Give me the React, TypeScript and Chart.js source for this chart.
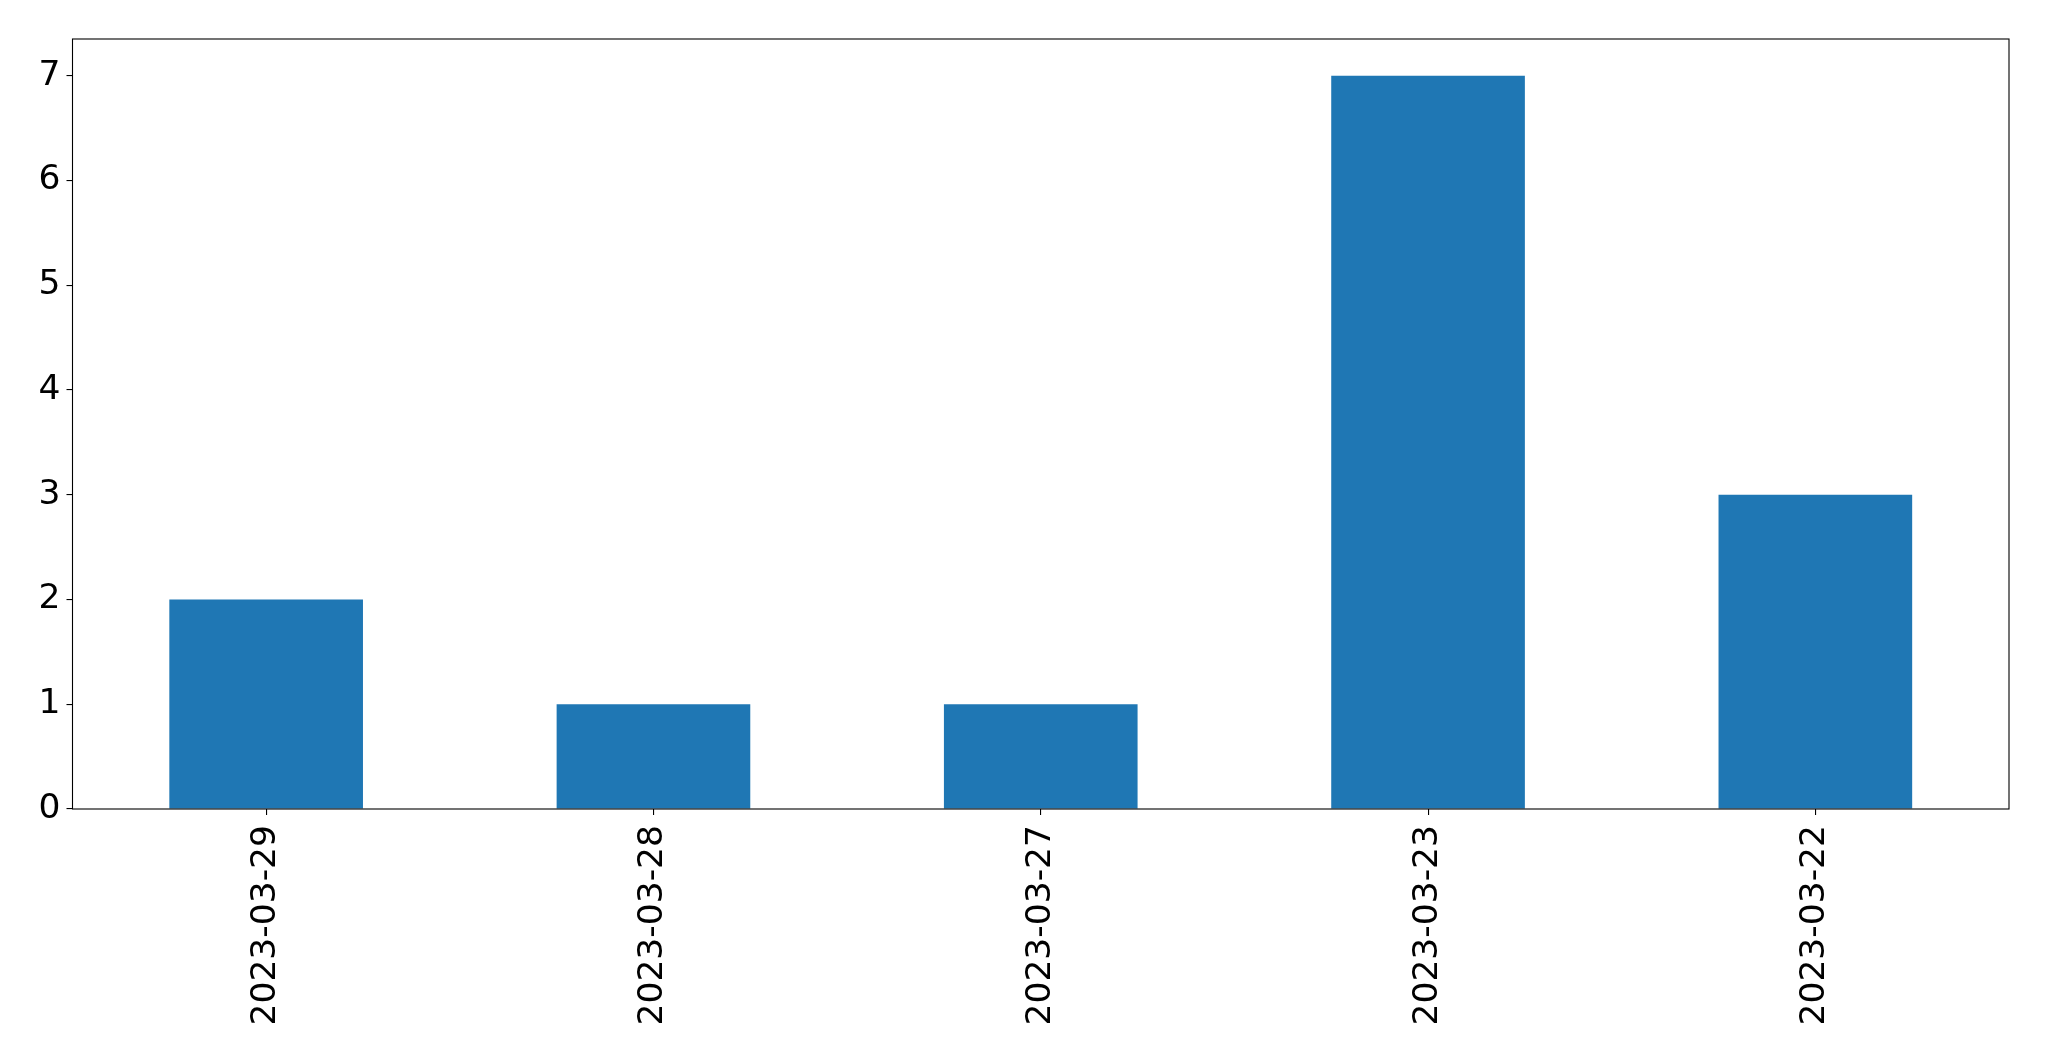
import React, { useEffect, useRef } from "react";
import { Chart, registerables } from "chart.js";

Chart.register(...registerables);

const categories: string[] = ["2023-03-29", "2023-03-28", "2023-03-27", "2023-03-23", "2023-03-22"];
const counts: number[] = [2, 1, 1, 7, 3];
const yMax = 7.35;

const frame = {
  id: "frame",
  afterDraw(chart: any) {
    const { ctx, chartArea } = chart;
    ctx.save();
    ctx.strokeStyle = "#000";
    ctx.lineWidth = 1.1;
    ctx.strokeRect(chartArea.left, chartArea.top, chartArea.right - chartArea.left, chartArea.bottom - chartArea.top);
    ctx.restore();
  },
};

export default function App() {
  const ref = useRef<HTMLCanvasElement | null>(null);
  useEffect(() => {
    if (!ref.current) return;
    const chart = new Chart(ref.current, {
      type: "bar",
      data: {
        labels: categories,
        datasets: [
          {
            data: counts,
            backgroundColor: "#1f77b4",
            borderWidth: 0,
            categoryPercentage: 1,
            barPercentage: 0.5,
          },
        ],
      },
      options: {
        responsive: false,
        animation: false,
        devicePixelRatio: 1,
        layout: { padding: { left: 0, top: 39, right: 40, bottom: 0 } },
        plugins: { legend: { display: false }, tooltip: { enabled: false } },
        scales: {
          x: {
            grid: { display: true, offset: false, drawOnChartArea: false, drawTicks: true, tickLength: 6, tickColor: "#000", lineWidth: 1.1 },
            border: { display: false },
            ticks: {
              minRotation: 90,
              maxRotation: 90,
              color: "#000",
              padding: 10,
              font: { family: "DejaVu Sans", size: 34.5 },
            },
            afterFit: (s: any) => {
              s.height = 252;
            },
          },
          y: {
            min: 0,
            max: yMax,
            grid: { display: true, drawOnChartArea: false, drawTicks: true, tickLength: 6, tickColor: "#000", lineWidth: 1.1 },
            border: { display: false },
            ticks: {
              stepSize: 1,
              includeBounds: false,
              color: "#000",
              padding: 6,
              font: { family: "DejaVu Sans", size: 34.5 },
            },
            afterFit: (s: any) => {
              s.width = 72.5;
            },
          },
        },
      },
      plugins: [frame],
    });
    return () => chart.destroy();
  }, []);
  return (
    <div style={{ position: "fixed", left: 0, top: 0, width: 2049, height: 1061, background: "#fff" }}>
      <canvas ref={ref} width={2049} height={1061} />
    </div>
  );
}
